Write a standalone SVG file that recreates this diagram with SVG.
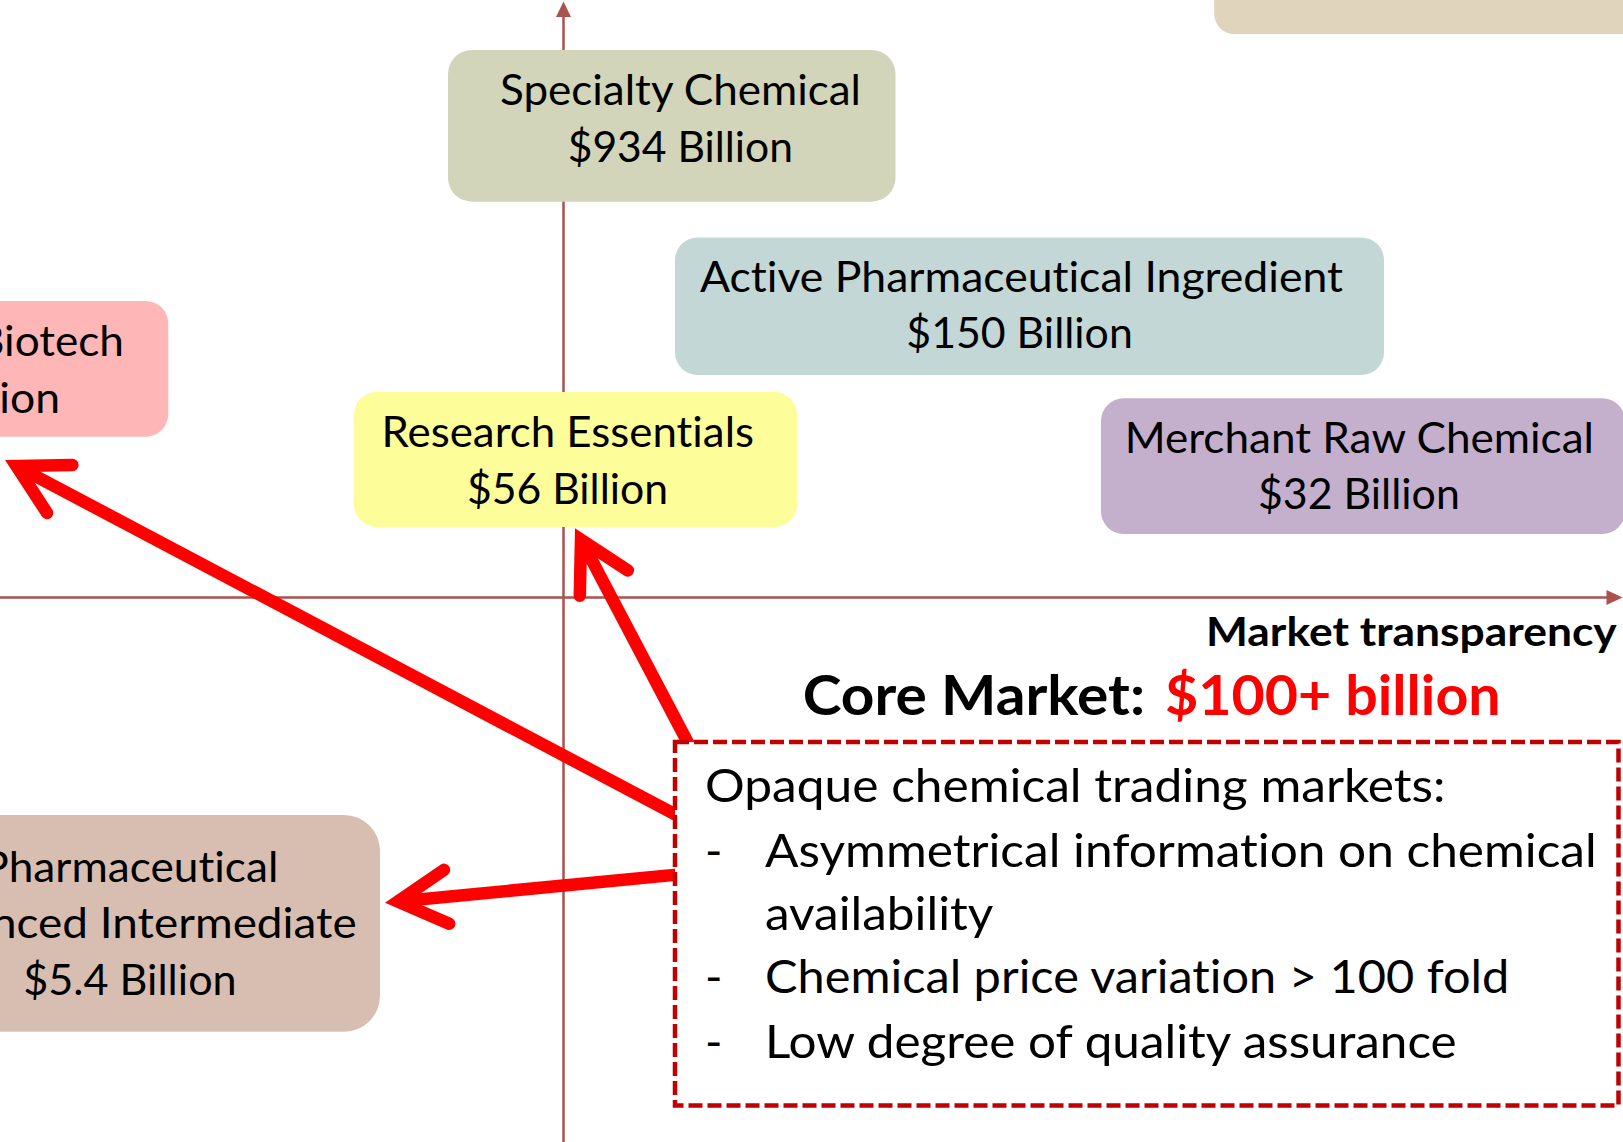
<svg xmlns="http://www.w3.org/2000/svg" width="1623" height="1142" viewBox="0 0 1623 1142">
<style>
  .t { font-family: Lato, "Open Sans", "Liberation Sans", sans-serif; fill: #000; font-variant-ligatures: none; }
  .bx { font-size: 42px; }
  .ls { font-size: 47px; }
  .b { font-weight: bold; }
  .axis { stroke: #a9524f; stroke-width: 2.5; fill: none; }
  .axhead { fill: #a9524f; }
  .shaft { stroke: #ff0000; stroke-width: 12.5; fill: none; stroke-linecap: butt; }
  .head { stroke: #ff0000; stroke-width: 12.5; fill: none; stroke-linecap: round; stroke-linejoin: miter; stroke-miterlimit: 6; }
</style>
<rect width="1623" height="1142" fill="#ffffff"/>

<g id="axes">
  <line class="axis" x1="563.5" y1="1142" x2="563.5" y2="16"/>
  <polygon class="axhead" points="556,17 563.5,1.5 571,17"/>
  <line class="axis" x1="0" y1="597.5" x2="1607" y2="597.5"/>
  <polygon class="axhead" points="1606.5,590 1622.5,597.5 1606.5,605"/>
</g>

<g id="node-top-right">
  <rect x="1214.3" y="-60" width="450" height="94" rx="20" fill="#e0d4bc"/>
</g>

<g id="node-specialty">
  <rect x="448" y="50" width="447.5" height="151.7" rx="24" fill="#d2d5b9"/>
  <text class="t bx" x="500" y="105" textLength="361" lengthAdjust="spacingAndGlyphs">Specialty Chemical</text>
  <text class="t bx" x="567.7" y="161.7" textLength="225.3" lengthAdjust="spacingAndGlyphs">$934 Billion</text>
</g>

<g id="node-api">
  <rect x="675" y="237.5" width="709" height="137.5" rx="22.5" fill="#c3d8d6"/>
  <text class="t bx" x="700" y="291.7" textLength="643" lengthAdjust="spacingAndGlyphs">Active Pharmaceutical Ingredient</text>
  <text class="t bx" x="906.3" y="348.2" textLength="226.5" lengthAdjust="spacingAndGlyphs">$150 Billion</text>
</g>

<g id="node-biotech">
  <rect x="-40" y="301" width="208.3" height="135.7" rx="22.6" fill="#ffb6b6"/>
  <text class="t bx" x="124" y="356" text-anchor="end" textLength="148" lengthAdjust="spacingAndGlyphs">Biotech</text>
  <text class="t bx" x="60" y="413" text-anchor="end" textLength="120.6" lengthAdjust="spacingAndGlyphs">Billion</text>
</g>

<g id="node-research">
  <rect x="354" y="392" width="443" height="135" rx="22.5" fill="#fdfd9a"/>
  <text class="t bx" x="381.5" y="447" textLength="372.5" lengthAdjust="spacingAndGlyphs">Research Essentials</text>
  <text class="t bx" x="467" y="504" textLength="201" lengthAdjust="spacingAndGlyphs">$56 Billion</text>
</g>

<g id="node-merchant">
  <rect x="1101" y="398.3" width="524" height="135.7" rx="22.6" fill="#c4b0cd"/>
  <text class="t bx" x="1124.7" y="453" textLength="469.3" lengthAdjust="spacingAndGlyphs">Merchant Raw Chemical</text>
  <text class="t bx" x="1258" y="509" textLength="201.8" lengthAdjust="spacingAndGlyphs">$32 Billion</text>
</g>

<g id="node-intermediate">
  <rect x="-50" y="815" width="430" height="216.7" rx="36" fill="#d8beb1"/>
  <text class="t bx" x="278.3" y="881.7" text-anchor="end" textLength="296" lengthAdjust="spacingAndGlyphs">Pharmaceutical</text>
  <text class="t bx" x="356.7" y="938.3" text-anchor="end" textLength="468" lengthAdjust="spacingAndGlyphs">Advanced Intermediate</text>
  <text class="t bx" x="23.3" y="995" textLength="213.4" lengthAdjust="spacingAndGlyphs">$5.4 Billion</text>
</g>

<g id="label-axis-x">
  <text class="t b" style="font-size:41px" x="1206" y="646" textLength="410.7" lengthAdjust="spacingAndGlyphs">Market transparency</text>
</g>

<g id="title-core-market">
  <text class="t b" style="font-size:56px" x="802.7" y="715" textLength="342.3" lengthAdjust="spacingAndGlyphs">Core Market:</text>
  <text class="t b" style="font-size:56px;fill:#ff0000" x="1165" y="715" textLength="335.7" lengthAdjust="spacingAndGlyphs">$100+ billion</text>
</g>

<g id="connectors">
  <line class="shaft" x1="697" y1="760" x2="581" y2="539.7"/>
  <polyline class="head" points="579.8,595.7 581,539.7 627.9,570.4"/>
  <line class="shaft" x1="690" y1="822.3" x2="16.4" y2="466"/>
  <polyline class="head" points="72.4,464.9 16.4,466 47,512.9"/>
  <line class="shaft" x1="690" y1="873.4" x2="397.8" y2="901.5"/>
  <polyline class="head" points="444,869.8 397.8,901.5 449.2,923.8"/>
</g>

<g id="node-opaque-markets">
  <rect x="675" y="742" width="943.5" height="363.5" fill="#ffffff" stroke="#c00000" stroke-width="4.5" stroke-dasharray="14 5"/>
  <text class="t ls" x="705" y="801.7" textLength="740.5" lengthAdjust="spacingAndGlyphs">Opaque chemical trading markets:</text>
  <text class="t ls" x="705" y="866.7">-</text>
  <text class="t ls" x="765" y="866.7" textLength="831.7" lengthAdjust="spacingAndGlyphs">Asymmetrical information on chemical</text>
  <text class="t ls" x="765" y="930" textLength="228.3" lengthAdjust="spacingAndGlyphs">availability</text>
  <text class="t ls" x="705" y="993.3">-</text>
  <text class="t ls" x="765" y="993.3" textLength="744.3" lengthAdjust="spacingAndGlyphs">Chemical price variation &gt; 100 fold</text>
  <text class="t ls" x="705" y="1058.3">-</text>
  <text class="t ls" x="765" y="1058.3" textLength="691.7" lengthAdjust="spacingAndGlyphs">Low degree of quality assurance</text>
</g>
</svg>
